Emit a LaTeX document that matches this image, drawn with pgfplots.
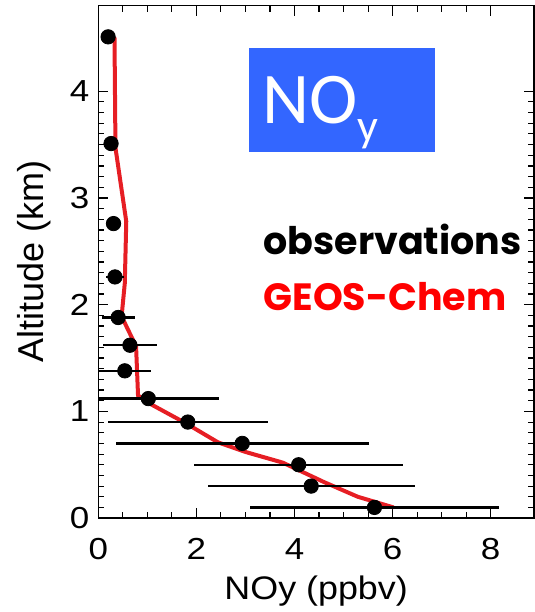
\documentclass[border=0pt]{standalone}
\usepackage{fontspec}
\usepackage{pgfplots}
\pgfplotsset{compat=1.18}
\usepackage{pgfplotstable}
\setmainfont{Liberation Sans}
\newfontfamily\tickfont{Liberation Sans}[FakeStretch=1.15]
\newfontfamily\xlabfont{Liberation Sans}[FakeStretch=1.1]
\newfontfamily\poppins{Poppins}
\newfontfamily\carlito{Carlito}
\definecolor{noyblue}{RGB}{51,102,255}
\definecolor{gcred}{RGB}{230,30,36}
\definecolor{txtred}{RGB}{255,0,0}

\pgfplotstableread{
x      y     e
0.20   4.51  0
0.26   3.51  0
0.31   2.76  0
0.34   2.26  0.19
0.405  1.88  0.335
0.645  1.62  0.545
0.54   1.38  0.53
1.02   1.12  1.45
1.825  0.90  1.635
2.935  0.70  2.575
4.085  0.50  2.135
4.34   0.30  2.11
5.63   0.10  2.53
}\obs

\pgfplotstableread{
x      y
0.33   4.51
0.35   3.47
0.57   2.78
0.54   2.20
0.475  1.89
0.77   1.61
0.81   1.15
1.02   1.08
1.78   0.89
2.44   0.71
3.00   0.62
3.76   0.52
4.59   0.34
5.29   0.20
6.02   0.10
}\geos

\begin{document}
\begin{tikzpicture}
\begin{axis}[
  scale only axis,
  width=217.85pt, height=256.2pt,
  xmin=0, xmax=8.883, ymin=0, ymax=4.802,
  xtick={0,2,4,6,8}, ytick={0,1,2,3,4},
  minor x tick num=3, minor y tick num=9,
  tick align=inside,
  major tick length=5pt, minor tick length=3pt,
  axis line style={line width=0.65pt},
  tick style={line width=0.55pt, black},
  /pgf/number format/assume math mode=true,
  xticklabel style={font=\tickfont\fontsize{15.2}{16}\selectfont, yshift=-6.8pt},
  yticklabel style={font=\tickfont\fontsize{15.2}{16}\selectfont, xshift=-1pt},
  xlabel={NOy (ppbv)}, ylabel={Altitude (km)},
  every axis x label/.style={at={(axis description cs:0.5,-0.1598)}, anchor=base,
     font=\xlabfont\fontsize{16.3}{18}\selectfont},
  every axis y label/.style={at={(axis description cs:-0.1262,0.5)}, anchor=base, rotate=90,
     font=\fontsize{18}{20}\selectfont},
]
\coordinate (sw) at (rel axis cs:0,0);
\coordinate (ne) at (rel axis cs:1,1);

\fill[noyblue] (axis cs:3.07,3.434) rectangle (axis cs:6.86,4.41);
\node[anchor=base west, inner sep=0pt, text=white, font=\carlito\fontsize{36.4}{38}\selectfont]
  at (axis cs:3.34,3.70) {NO\raisebox{-9pt}{\fontsize{23}{24}\selectfont y}};
\node[anchor=base west, inner sep=0pt, text=black, font=\poppins\bfseries\fontsize{19}{20}\selectfont]
  at (axis cs:3.36,2.466) {observations};
\node[anchor=base west, inner sep=0pt, text=txtred, font=\poppins\bfseries\fontsize{19}{20}\selectfont]
  at (axis cs:3.36,1.941) {GEOS-Chem};

\addplot[color=gcred, line width=2pt, mark=none] table[x=x, y=y] {\geos};

\addplot[only marks, mark=*, mark size=3.6pt, black,
  error bars/.cd, x dir=both, x explicit, error mark=none,
  error bar style={line width=1.1pt, black}]
  table[x=x, y=y, x error=e] {\obs};
\end{axis}
\pgfresetboundingbox
\useasboundingbox ([xshift=-49.15pt,yshift=-46.95pt]sw) rectangle ([yshift=2.85pt]ne);
\end{tikzpicture}
\end{document}
